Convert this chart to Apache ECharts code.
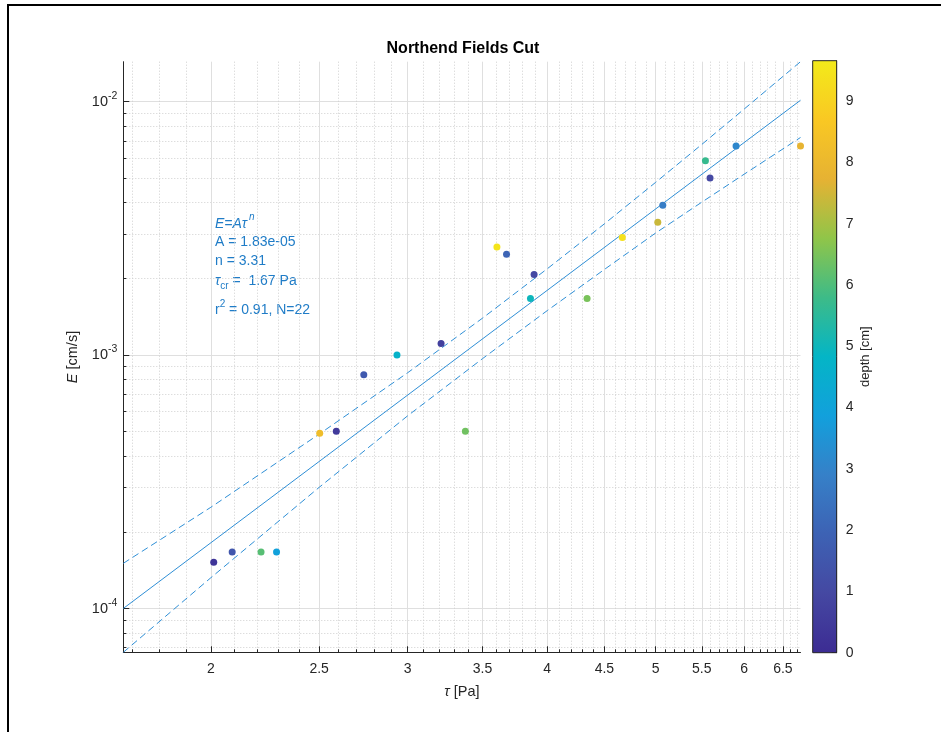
<!DOCTYPE html>
<html>
<head>
<meta charset="utf-8">
<title>Northend Fields Cut</title>
<script src="https://cdn.jsdelivr.net/npm/echarts@6/dist/echarts.min.js"></script>
<style>
  html, body { margin: 0; padding: 0; background: #fff; }
  #chart { width: 941px; height: 732px; }
</style>
</head>
<body>
<div id="chart"></div>
<script>
// Measured erosion rate vs. bed shear stress, coloured by sample depth
const tau = [2.012, 2.09, 2.218, 2.29, 2.503, 2.59, 2.741, 2.935, 3.214, 3.379, 3.606,
             3.678, 3.864, 3.893, 4.342, 4.669, 5.023, 5.075, 5.541, 5.594, 5.902, 6.74];
const erosion = [1.52e-4, 1.67e-4, 1.67e-4, 1.67e-4, 4.91e-4, 5.0e-4, 8.36e-4, 1.0e-3, 1.11e-3, 5.0e-4, 2.67e-3,
                 2.5e-3, 1.67e-3, 2.08e-3, 1.67e-3, 2.91e-3, 3.34e-3, 3.9e-3, 5.84e-3, 5.0e-3, 6.68e-3, 6.68e-3];
const depth = [0.3, 1.5, 6.1, 3.9, 8.2, 0.5, 1.6, 4.7, 0.7, 6.4, 9.5,
               2.0, 5.0, 1.0, 6.5, 9.4, 7.4, 2.8, 5.7, 1.0, 3.1, 7.8];

// Power-law fit E = A * tau^n
const fitA = 1.83e-5;
const fitN = 3.31;
const tauCr = 1.67;
const rSquared = 0.91;

// Confidence band of the fit
const bandTau   = [1.67, 2.0, 2.5, 3.0, 3.5, 4.0, 4.5, 5.0, 5.5, 6.0, 6.74];
const bandUpper = [1.506e-4, 2.506e-4, 4.871e-4, 8.508e-4, 1.397e-3, 2.189e-3, 3.293e-3, 4.798e-3, 6.777e-3, 9.337e-3, 1.437e-2];
const bandLower = [6.709e-5, 1.321e-4, 3.003e-4, 5.753e-4, 9.669e-4, 1.497e-3, 2.176e-3, 3.028e-3, 4.010e-3, 5.167e-3, 7.218e-3];

// Axis limits and ticks
const xMin = 1.67, xMax = 6.74;
const yMin = 6.71e-5, yMax = 1.437e-2;
const depthMin = 0, depthMax = 9.66;
const xMajorTicks = [2, 2.5, 3, 3.5, 4, 4.5, 5, 5.5, 6, 6.5];
const xMinorTicks = [1.7, 1.8, 1.9, 2.1, 2.2, 2.3, 2.4, 2.6, 2.7, 2.8, 2.9, 3.1, 3.2, 3.3, 3.4,
                     3.6, 3.7, 3.8, 3.9, 4.1, 4.2, 4.3, 4.4, 4.6, 4.7, 4.8, 4.9, 5.1, 5.2, 5.3, 5.4,
                     5.6, 5.7, 5.8, 5.9, 6.1, 6.2, 6.3, 6.4, 6.6, 6.7];
const yMajorTicks = [1e-4, 1e-3, 1e-2];
const yMinorTicks = [7e-5, 8e-5, 9e-5, 2e-4, 3e-4, 4e-4, 5e-4, 6e-4, 7e-4, 8e-4, 9e-4,
                     2e-3, 3e-3, 4e-3, 5e-3, 6e-3, 7e-3, 8e-3, 9e-3];
const depthTicks = [0, 1, 2, 3, 4, 5, 6, 7, 8, 9];

// parula colour map, evenly spaced over the depth range
const parula = ['#3C2C93', '#4548A2', '#3D62B4', '#3680C8', '#12A0DC', '#04B5C6',
                '#3DBB88', '#90C549', '#E6B233', '#F9C823', '#F3EA1A'];

const FONT = '"Liberation Sans", Arial, Helvetica, sans-serif';
const INK = '#262626';
const FIT_COLOR = '#2F8FD6';
const NOTE_COLOR = '#1F7CC7';

const chart = echarts.init(document.getElementById('chart'), null, { renderer: 'canvas' });

const points = tau.map((t, i) => [t, erosion[i], depth[i]]);
const fitLine = [[xMin, fitA * Math.pow(xMin, fitN)], [xMax, fitA * Math.pow(xMax, fitN)]];
const upperLine = bandTau.map((t, i) => [t, bandUpper[i]]);
const lowerLine = bandTau.map((t, i) => [t, bandLower[i]]);

// plot area and colour bar frames
const plot = { left: 123.3, top: 61.7, width: 677.2, height: 590.6 };
const cbar = { left: 812.7, top: 60.7, width: 24, height: 592 };

function fmtExp(v) {
  const e = Math.floor(Math.log10(v));
  const m = v / Math.pow(10, e);
  const s = Math.abs(e) < 10 ? '0' + Math.abs(e) : String(Math.abs(e));
  return m.toFixed(2) + 'e' + (e < 0 ? '-' : '+') + s;
}

const noteBase = { fontSize: 14, fontFamily: FONT, color: NOTE_COLOR };

const option = {
  animation: false,
  backgroundColor: '#ffffff',
  textStyle: { fontFamily: FONT },
  grid: [
    { left: plot.left, top: plot.top, width: plot.width, height: plot.height,
      containLabel: false, outerBoundsMode: 'none', show: false },
    { left: cbar.left, top: cbar.top, width: cbar.width, height: cbar.height,
      containLabel: false, outerBoundsMode: 'none', show: false }
  ],
  xAxis: [
    {
      type: 'log', gridIndex: 0, logBase: 10, min: xMin, max: xMax, position: 'bottom',
      axisLine: { show: true, onZero: false, lineStyle: { color: INK, width: 1 } },
      axisTick: { show: true, inside: true, length: 6, customValues: xMajorTicks,
                  lineStyle: { color: INK, width: 1 } },
      axisLabel: { show: true, customValues: xMajorTicks, margin: 10, color: INK,
                   fontSize: 14, fontFamily: FONT, formatter: v => String(+(+v).toFixed(2)) },
      splitLine: { show: true, lineStyle: { color: '#DFDFDF', width: 1 } },
      minorTick: { show: false }, minorSplitLine: { show: false },
      name: '{i|τ} [Pa]', nameLocation: 'middle', nameGap: 32,
      nameTextStyle: { fontSize: 14.5, color: INK, fontFamily: FONT,
                       rich: { i: { fontSize: 14.5, fontStyle: 'italic', color: INK, fontFamily: FONT } } }
    },
    {
      type: 'log', gridIndex: 0, logBase: 10, min: xMin, max: xMax, position: 'bottom',
      axisLine: { show: false },
      axisTick: { show: true, inside: true, length: 3, customValues: xMinorTicks,
                  lineStyle: { color: INK, width: 1 } },
      axisLabel: { show: false },
      splitLine: { show: true, lineStyle: { color: '#CFCFCF', width: 1, type: [1, 2] } },
      minorTick: { show: false }, minorSplitLine: { show: false }
    },
    {
      type: 'category', gridIndex: 1, data: ['depth'], show: false, boundaryGap: true
    }
  ],
  yAxis: [
    {
      type: 'log', gridIndex: 0, logBase: 10, min: yMin, max: yMax, position: 'left',
      axisLine: { show: true, onZero: false, lineStyle: { color: INK, width: 1 } },
      axisTick: { show: true, inside: true, length: 6, customValues: yMajorTicks,
                  lineStyle: { color: INK, width: 1 } },
      axisLabel: {
        show: true, customValues: yMajorTicks, margin: 6, color: INK, fontFamily: FONT,
        formatter: v => '{b|10}{s|' + Math.round(Math.log10(v)) + '}',
        rich: {
          b: { fontSize: 14.5, lineHeight: 16, padding: [7, 0, 0, 0], verticalAlign: 'bottom', color: INK, fontFamily: FONT },
          s: { fontSize: 10.5, lineHeight: 10, padding: [0, 0, 8, 0], verticalAlign: 'bottom', color: INK, fontFamily: FONT }
        }
      },
      splitLine: { show: true, lineStyle: { color: '#DFDFDF', width: 1 } },
      minorTick: { show: false }, minorSplitLine: { show: false },
      name: '{i|E} [cm/s]', nameLocation: 'middle', nameGap: 41, nameRotate: 90,
      nameTextStyle: { fontSize: 14.5, color: INK, fontFamily: FONT,
                       rich: { i: { fontSize: 14.5, fontStyle: 'italic', color: INK, fontFamily: FONT } } }
    },
    {
      type: 'log', gridIndex: 0, logBase: 10, min: yMin, max: yMax, position: 'left',
      axisLine: { show: false },
      axisTick: { show: true, inside: true, length: 3, customValues: yMinorTicks,
                  lineStyle: { color: INK, width: 1 } },
      axisLabel: { show: false },
      splitLine: { show: true, lineStyle: { color: '#CFCFCF', width: 1, type: [1, 2] } },
      minorTick: { show: false }, minorSplitLine: { show: false }
    },
    {
      type: 'value', gridIndex: 1, min: depthMin, max: depthMax, position: 'right',
      axisLine: { show: true, onZero: false, lineStyle: { color: INK, width: 1 } },
      axisTick: { show: true, inside: true, length: 5, customValues: depthTicks,
                  lineStyle: { color: INK, width: 1 } },
      axisLabel: { show: true, customValues: depthTicks, margin: 9, color: INK,
                   fontSize: 14, fontFamily: FONT },
      splitLine: { show: false },
      name: 'depth [cm]', nameLocation: 'middle', nameRotate: 90, nameGap: 22,
      nameTextStyle: { fontSize: 13, color: INK, fontFamily: FONT }
    }
  ],
  visualMap: {
    type: 'continuous', show: false, dimension: 2, seriesIndex: 3,
    min: depthMin, max: depthMax, inRange: { color: parula }
  },
  series: [
    {
      name: 'fit', type: 'line', xAxisIndex: 0, yAxisIndex: 0, data: fitLine,
      symbol: 'none', silent: true, z: 3,
      lineStyle: { color: FIT_COLOR, width: 1 }
    },
    {
      name: 'upper', type: 'line', xAxisIndex: 0, yAxisIndex: 0, data: upperLine,
      symbol: 'none', silent: true, z: 3,
      lineStyle: { color: FIT_COLOR, width: 1, type: [7, 4] }
    },
    {
      name: 'lower', type: 'line', xAxisIndex: 0, yAxisIndex: 0, data: lowerLine,
      symbol: 'none', silent: true, z: 3,
      lineStyle: { color: FIT_COLOR, width: 1, type: [7, 4] }
    },
    {
      name: 'samples', type: 'scatter', xAxisIndex: 0, yAxisIndex: 0, data: points,
      symbol: 'circle', symbolSize: 7, z: 4,
      itemStyle: { opacity: 1 }
    },
    {
      name: 'colorbar', type: 'bar', xAxisIndex: 2, yAxisIndex: 2, data: [depthMax],
      barWidth: '100%', silent: true, z: 1,
      itemStyle: {
        color: new echarts.graphic.LinearGradient(0, 1, 0, 0,
          parula.map((c, i) => ({ offset: i / (parula.length - 1), color: c })))
      }
    }
  ],
  graphic: [
    { type: 'rect', silent: true, shape: { x: 7, y: 4, width: 2, height: 728 }, style: { fill: '#000' } },
    { type: 'rect', silent: true, shape: { x: 7, y: 4, width: 934, height: 2 }, style: { fill: '#000' } },
    { type: 'rect', silent: true, z: 100,
      shape: { x: cbar.left, y: cbar.top, width: cbar.width, height: cbar.height },
      style: { fill: null, stroke: INK, lineWidth: 1 } },
    { type: 'text', silent: true, x: 463, y: 48.3,
      style: { text: 'Northend Fields Cut', align: 'center', verticalAlign: 'middle',
               fontSize: 16, fontWeight: 'bold', fontFamily: FONT, fill: '#000' } },
    { type: 'text', silent: true, x: 215, y: 231,
      style: { text: '{i|E=Aτ}{s|n}', align: 'left', verticalAlign: 'bottom', fill: NOTE_COLOR,
               rich: {
                 i: Object.assign({}, noteBase, { fontStyle: 'italic', lineHeight: 16, verticalAlign: 'bottom' }),
                 s: Object.assign({}, noteBase, { fontSize: 10, fontStyle: 'italic', lineHeight: 10, padding: [0, 0, 9, 2], verticalAlign: 'bottom' })
               } } },
    { type: 'text', silent: true, x: 215, y: 242.5,
      style: Object.assign({ text: 'A = ' + fmtExp(fitA), align: 'left', verticalAlign: 'middle', fill: NOTE_COLOR }, noteBase) },
    { type: 'text', silent: true, x: 215, y: 261,
      style: Object.assign({ text: 'n = ' + fitN.toFixed(2), align: 'left', verticalAlign: 'middle', fill: NOTE_COLOR }, noteBase) },
    { type: 'text', silent: true, x: 215, y: 291.5,
      style: { text: '{g|τ}{c|cr}{t| =  ' + tauCr.toFixed(2) + ' Pa}', align: 'left', verticalAlign: 'bottom', fill: NOTE_COLOR,
               rich: {
                 g: Object.assign({}, noteBase, { fontStyle: 'italic', lineHeight: 16, padding: [0, 0, 3, 0], verticalAlign: 'bottom' }),
                 c: Object.assign({}, noteBase, { fontSize: 10, lineHeight: 12, verticalAlign: 'bottom' }),
                 t: Object.assign({}, noteBase, { lineHeight: 16, padding: [0, 0, 3, 0], verticalAlign: 'bottom' })
               } } },
    { type: 'text', silent: true, x: 215, y: 317,
      style: { text: '{t|r}{s|2}{t| = ' + rSquared.toFixed(2) + ', N=' + tau.length + '}', align: 'left', verticalAlign: 'bottom', fill: NOTE_COLOR,
               rich: {
                 t: Object.assign({}, noteBase, { lineHeight: 16, verticalAlign: 'bottom' }),
                 s: Object.assign({}, noteBase, { fontSize: 10, lineHeight: 10, padding: [0, 0, 8, 0], verticalAlign: 'bottom' })
               } } }
  ]
};

chart.setOption(option);
</script>
</body>
</html>
